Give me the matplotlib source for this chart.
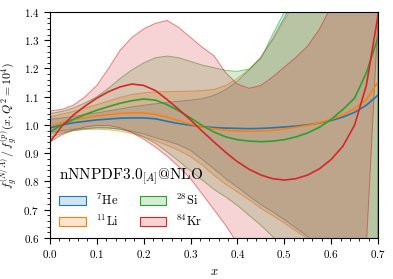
import matplotlib

matplotlib.use("Agg")
import matplotlib.pyplot as plt
from matplotlib.patches import Patch

plt.rcParams["font.family"] = "serif"
plt.rcParams["font.serif"] = ["cmr10"]
plt.rcParams["mathtext.fontset"] = "cm"
plt.rcParams["axes.formatter.use_mathtext"] = True

# x grid (step 0.025)
x_grid = [0.0, 0.025, 0.05, 0.075, 0.1, 0.125, 0.15, 0.175, 0.2, 0.225,
          0.25, 0.275, 0.3, 0.325, 0.35, 0.375, 0.4, 0.425, 0.45, 0.475,
          0.5, 0.525, 0.55, 0.575, 0.6, 0.625, 0.65, 0.675, 0.7]

nuclei = ["$^{7}$He", "$^{11}$Li", "$^{28}$Si", "$^{84}$Kr"]
colors = ["tab:blue", "tab:orange", "tab:green", "tab:red"]

# central values
he_central = [0.990, 1.000, 1.008, 1.013, 1.018, 1.021, 1.024, 1.025, 1.025, 1.022,
              1.013, 1.005, 0.999, 0.994, 0.991, 0.989, 0.988, 0.987, 0.988, 0.990,
              0.993, 0.996, 1.001, 1.007, 1.016, 1.028, 1.045, 1.070, 1.106]
li_central = [0.995, 1.008, 1.018, 1.026, 1.032, 1.037, 1.041, 1.043, 1.043, 1.038,
              1.028, 1.015, 1.003, 0.993, 0.986, 0.981, 0.979, 0.978, 0.979, 0.981,
              0.986, 0.992, 0.999, 1.008, 1.020, 1.036, 1.058, 1.090, 1.152]
si_central = [0.975, 1.000, 1.020, 1.037, 1.052, 1.065, 1.077, 1.086, 1.092, 1.088,
              1.072, 1.050, 1.025, 0.998, 0.975, 0.958, 0.948, 0.943, 0.941, 0.943,
              0.948, 0.958, 0.972, 0.992, 1.020, 1.055, 1.095, 1.185, 1.310]
kr_central = [0.940, 0.995, 1.035, 1.067, 1.095, 1.118, 1.135, 1.145, 1.140, 1.122,
              1.090, 1.055, 1.018, 0.978, 0.940, 0.903, 0.870, 0.843, 0.823, 0.810,
              0.805, 0.810, 0.823, 0.845, 0.878, 0.925, 1.000, 1.140, 1.390]

# uncertainty bands (values above 1.4 / below 0.6 are clipped by the axes)
he_upper = [1.020, 1.025, 1.030, 1.037, 1.043, 1.050, 1.057, 1.064, 1.070, 1.075,
            1.080, 1.084, 1.088, 1.093, 1.105, 1.125, 1.155, 1.195, 1.240, 1.305,
            1.380, 1.460, 1.560, 1.600, 1.600, 1.600, 1.600, 1.600, 1.600]
he_lower = [0.975, 0.980, 0.985, 0.988, 0.990, 0.989, 0.985, 0.978, 0.968, 0.955,
            0.943, 0.930, 0.910, 0.878, 0.845, 0.810, 0.780, 0.748, 0.718, 0.693,
            0.665, 0.635, 0.605, 0.570, 0.530, 0.500, 0.470, 0.440, 0.400]
li_upper = [1.028, 1.038, 1.048, 1.060, 1.072, 1.085, 1.098, 1.108, 1.114, 1.117,
            1.118, 1.119, 1.120, 1.122, 1.126, 1.140, 1.165, 1.198, 1.240, 1.300,
            1.370, 1.440, 1.540, 1.600, 1.600, 1.600, 1.600, 1.600, 1.600]
li_lower = [0.970, 0.975, 0.980, 0.984, 0.985, 0.983, 0.978, 0.970, 0.958, 0.944,
            0.928, 0.910, 0.888, 0.858, 0.822, 0.790, 0.763, 0.735, 0.705, 0.680,
            0.653, 0.625, 0.598, 0.565, 0.530, 0.500, 0.470, 0.440, 0.400]
si_upper = [1.040, 1.048, 1.060, 1.078, 1.100, 1.130, 1.165, 1.195, 1.220, 1.238,
            1.244, 1.238, 1.225, 1.212, 1.203, 1.193, 1.190, 1.198, 1.235, 1.320,
            1.400, 1.480, 1.560, 1.600, 1.600, 1.600, 1.600, 1.600, 1.600]
si_lower = [0.955, 0.970, 0.980, 0.986, 0.990, 0.990, 0.985, 0.975, 0.958, 0.935,
            0.905, 0.872, 0.838, 0.805, 0.772, 0.745, 0.715, 0.680, 0.645, 0.605,
            0.565, 0.525, 0.480, 0.450, 0.420, 0.400, 0.400, 0.400, 0.400]
kr_upper = [1.050, 1.055, 1.070, 1.100, 1.140, 1.200, 1.265, 1.310, 1.340, 1.360,
            1.370, 1.345, 1.310, 1.275, 1.245, 1.185, 1.145, 1.130, 1.140, 1.170,
            1.205, 1.240, 1.280, 1.340, 1.420, 1.500, 1.600, 1.600, 1.600]
kr_lower = [0.940, 0.965, 0.982, 0.993, 0.998, 0.998, 0.990, 0.973, 0.950, 0.922,
            0.890, 0.852, 0.810, 0.755, 0.700, 0.645, 0.580, 0.520, 0.450, 0.400,
            0.350, 0.300, 0.280, 0.280, 0.300, 0.330, 0.380, 0.570, 1.380]

centrals = [he_central, li_central, si_central, kr_central]
uppers = [he_upper, li_upper, si_upper, kr_upper]
lowers = [he_lower, li_lower, si_lower, kr_lower]


def main() -> None:
    fig = plt.figure(figsize=(3.93, 2.79), dpi=100)
    ax = fig.add_axes([0.127, 0.147, 0.835, 0.81])

    for lo, hi, c in zip(lowers, uppers, colors):
        rgba = matplotlib.colors.to_rgba(c)
        ax.fill_between(x_grid, lo, hi, facecolor=(*rgba[:3], 0.2),
                        edgecolor=(*rgba[:3], 0.55), linewidth=0.7)
    for y, c in zip(centrals, colors):
        ax.plot(x_grid, y, color=c, linewidth=1.2)

    ax.set_xlim(0.0, 0.7)
    ax.set_ylim(0.6, 1.4)
    ax.set_xticks([0.0, 0.1, 0.2, 0.3, 0.4, 0.5, 0.6, 0.7])
    ax.set_yticks([0.6, 0.7, 0.8, 0.9, 1.0, 1.1, 1.2, 1.3, 1.4])
    ax.xaxis.set_minor_locator(matplotlib.ticker.MultipleLocator(0.02))
    ax.yaxis.set_minor_locator(matplotlib.ticker.MultipleLocator(0.02))
    ax.tick_params(which="major", direction="out", length=4, labelsize=8)
    ax.tick_params(which="minor", direction="out", length=2)
    ax.set_xlabel("$x$", fontsize=9)
    ax.set_ylabel(r"$f_g^{(N/A)}\,/\,f_g^{(p)}(x,Q^2=10^4)$", fontsize=8.5)
    ax.yaxis.set_label_coords(-0.088, 0.5)

    handles = []
    for c in colors:
        rgba = matplotlib.colors.to_rgba(c)
        handles.append(Patch(facecolor=(*rgba[:3], 0.2), edgecolor=c, linewidth=0.8))
    ax.legend(handles, nuclei, loc="lower left", ncol=2, frameon=False,
              fontsize=9, title=r"nNNPDF3.0$_{[A]}$@NLO", title_fontsize=11,
              handlelength=2.1, handletextpad=0.8, columnspacing=1.7,
              borderaxespad=0.3)

    fig.savefig("out.png", dpi=100)
    plt.close(fig)


if __name__ == "__main__":
    main()
